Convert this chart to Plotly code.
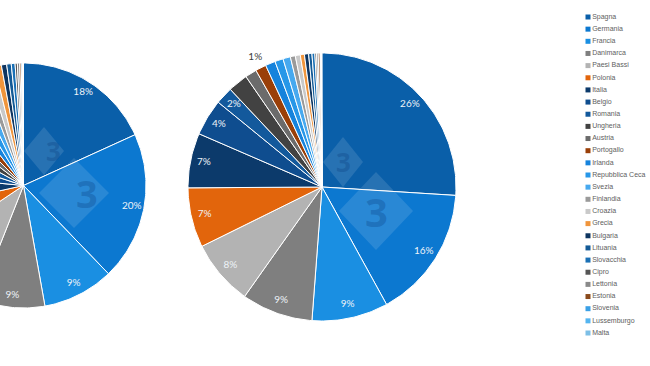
import numpy as np
import plotly.graph_objects as go

countries = ["Spagna", "Germania", "Francia", "Danimarca", "Paesi Bassi", "Polonia",
             "Italia", "Belgio", "Romania", "Ungheria", "Austria", "Portogallo",
             "Irlanda", "Repubblica Ceca", "Svezia", "Finlandia", "Croazia", "Grecia",
             "Bulgaria", "Lituania", "Slovacchia", "Cipro", "Lettonia", "Estonia",
             "Slovenia", "Lussemburgo", "Malta"]

colors = ["#0a5fa9", "#0c78d0", "#1a8fe2", "#7f7f7f", "#b3b3b3", "#e2650c",
          "#0c3a6b", "#0f4d8f", "#13599c", "#424242", "#6b6b6b", "#9a3f08",
          "#1683dc", "#2797e8", "#47a9ef", "#9a9a9a", "#c9c9c9", "#f0953c",
          "#0e3560", "#135a96", "#1a70b5", "#555555", "#8a8a8a", "#8a4a1c",
          "#3aa0e6", "#55b5f0", "#7dbfe6"]

# share (%) per country, left (partially visible) pie
left_values = [18.2, 19.6, 9.4, 8.8, 9.6, 5.9,
               5.0, 3.5, 3.0, 2.5, 2.0, 2.0,
               1.8, 1.6, 1.3, 1.0, 1.0, 0.9,
               0.7, 0.6, 0.5, 0.3, 0.3, 0.2,
               0.2, 0.05, 0.05]

# share (%) per country, right pie
right_values = [26.0, 16.0, 9.2, 8.6, 7.9, 7.2,
                6.6, 4.4, 2.1, 2.4, 1.4, 1.3,
                1.2, 1.0, 0.9, 0.6, 0.6, 0.5,
                0.5, 0.4, 0.35, 0.2, 0.2, 0.2,
                0.15, 0.05, 0.05]

left_labelled = ["Spagna", "Germania", "Francia", "Danimarca"]
right_labelled = ["Spagna", "Germania", "Francia", "Danimarca", "Paesi Bassi", "Polonia",
                  "Italia", "Belgio", "Romania"]
right_outside = ["Portogallo"]

W, H = 650, 366
fig = go.Figure()


def add_pie(values, xa, ya, inside, outside):
    v = np.array(values, dtype=float)
    frac = v / v.sum()
    cum = np.concatenate([[0], np.cumsum(frac)])
    for i, name in enumerate(countries):
        a0, a1 = cum[i] * 2 * np.pi, cum[i + 1] * 2 * np.pi
        n = max(3, int(np.ceil((a1 - a0) / (2 * np.pi) * 360)))
        th = np.linspace(a0, a1, n)
        x = np.concatenate([[0], np.sin(th), [0]])
        y = np.concatenate([[0], np.cos(th), [0]])
        fig.add_trace(go.Scatter(x=x, y=y, mode="lines", fill="toself",
                                 fillcolor=colors[i], line=dict(color="white", width=1),
                                 xaxis=xa, yaxis=ya, hoverinfo="skip", showlegend=False))
    tx, ty, tt = [], [], []
    for name in inside:
        i = countries.index(name)
        mid = (cum[i] + cum[i + 1]) * np.pi
        tx.append(0.9 * np.sin(mid)); ty.append(0.9 * np.cos(mid))
        tt.append(f"{values[i]:.0f}%")
    fig.add_trace(go.Scatter(x=tx, y=ty, text=tt, mode="text", xaxis=xa, yaxis=ya,
                             textfont=dict(family="Lato", size=10, color="#eef3f8"),
                             hoverinfo="skip", showlegend=False))
    ox, oy, ot = [], [], []
    for name in outside:
        i = countries.index(name)
        mid = (cum[i] + cum[i + 1]) * np.pi
        ox.append(1.09 * np.sin(mid)); oy.append(1.09 * np.cos(mid))
        ot.append(f"{values[i]:.0f}%")
    if ox:
        fig.add_trace(go.Scatter(x=ox, y=oy, text=ot, mode="text", xaxis=xa, yaxis=ya,
                                 textfont=dict(family="Lato", size=10, color="#404040"),
                                 hoverinfo="skip", showlegend=False))


add_pie(left_values, "x", "y", left_labelled, [])
add_pie(right_values, "x2", "y2", right_labelled, right_outside)

# legend drawn as a markers+text column
fig.add_trace(go.Scatter(x=[5] * len(countries), y=list(range(len(countries))),
                         mode="markers+text", text=countries, textposition="middle right",
                         marker=dict(symbol="square", size=5, color=colors),
                         textfont=dict(family="Liberation Sans", size=7, color="#606060"),
                         xaxis="x3", yaxis="y3", hoverinfo="skip", showlegend=False,
                         cliponaxis=False))


def pie_domain(cx, cy, r, xr, yr):
    x0 = (cx + xr[0] * r) / W
    x1 = (cx + xr[1] * r) / W
    y0 = (H - (cy - yr[0] * r)) / H
    y1 = (H - (cy - yr[1] * r)) / H
    return [max(0, x0), min(1, x1)], [y0, y1]


ax_off = dict(visible=False, showgrid=False, zeroline=False, fixedrange=True)

lxr, lyr = [-23.5 / 122.5, 1.02], [-1.02, 1.02]
ldx, ldy = pie_domain(23.5, 185.5, 122.5, lxr, lyr)
rxr, ryr = [-1.02, 1.02], [-1.02, 1.02]
rdx, rdy = pie_domain(322, 187, 134, rxr, ryr)

step = (333 - 17) / 26
ly_top = (H - (17 - step / 2)) / H
ly_bot = (H - (333 + step / 2)) / H

# faint "3" watermark diamonds (decoration), pixel centre / half sizes / font size
watermarks = [(44, 151, 20, 24, 26), (74, 193, 35, 35, 38),
              (343, 162, 20, 25, 26), (376, 211, 37, 39, 40)]
shapes, annots = [], []
for cx, cy, hw, hh, fs in watermarks:
    pts = [(cx, cy - hh), (cx + hw, cy), (cx, cy + hh), (cx - hw, cy)]
    path = "M " + " L ".join(f"{px / W:.5f},{1 - py / H:.5f}" for px, py in pts) + " Z"
    shapes.append(dict(type="path", xref="paper", yref="paper", path=path,
                       fillcolor="rgba(255,255,255,0.12)", line=dict(width=0), layer="above"))
    annots.append(dict(x=cx / W, y=1 - cy / H, xref="paper", yref="paper", text="<b>3</b>",
                       showarrow=False, font=dict(family="Open Sans", size=fs,
                                                  color="rgba(8,60,125,0.30)")))

fig.update_layout(
    width=W, height=H, margin=dict(l=0, r=0, t=0, b=0),
    paper_bgcolor="white", plot_bgcolor="white", showlegend=False,
    xaxis=dict(domain=ldx, range=lxr, **ax_off),
    yaxis=dict(domain=ldy, range=lyr, **ax_off),
    xaxis2=dict(domain=rdx, range=rxr, **ax_off),
    yaxis2=dict(domain=rdy, range=ryr, **ax_off),
    xaxis3=dict(domain=[583 / W, 1], range=[0, 67], **ax_off),
    yaxis3=dict(domain=[ly_bot, ly_top], range=[len(countries) - 0.5, -0.5], **ax_off),
    shapes=shapes, annotations=annots,
)

fig.write_html("out.html")
